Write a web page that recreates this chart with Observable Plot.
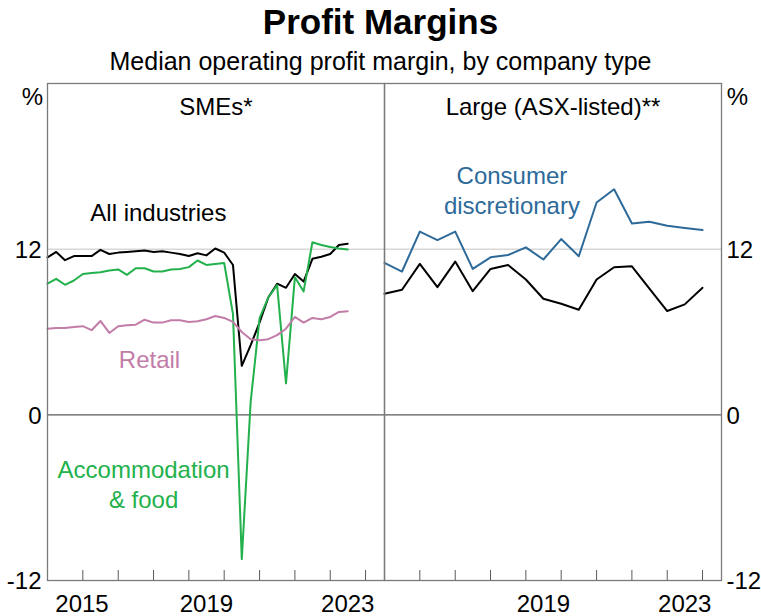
<!DOCTYPE html>
<html><head><meta charset="utf-8">
<script src="https://cdn.jsdelivr.net/npm/d3@7"></script>
<script src="https://cdn.jsdelivr.net/npm/@observablehq/plot@0.6"></script>
<style>
body{margin:0;background:#fff;font-family:"Liberation Sans",Arial,sans-serif;color:#000}
#wrap{width:761px}
.title{font-weight:bold;font-size:35px;line-height:40px;text-align:center;padding-top:2px;height:39px}
.subtitle{font-size:25px;line-height:41px;text-align:center;height:41px}
</style></head><body>
<div id="wrap">
<div class="title">Profit Margins</div>
<div class="subtitle">Median operating profit margin, by company type</div>
<div id="chart"></div>
</div>
<script>
// ---- data ----
const panels = ["SMEs*", "Large (ASX-listed)**"];
const seriesNames = ["All industries", "Accommodation & food", "Retail", "Consumer discretionary"];
const seriesColors = ["#000000", "#22b14c", "#c27ca8", "#2d6a9a"];

// SMEs: quarterly, 2015 Q1 to 2023 Q3
const smeDates = d3.utcMonth.every(3).range(new Date(Date.UTC(2015, 0, 1)), new Date(Date.UTC(2023, 9, 1)));
const smeAllIndustries = [11.4, 11.8, 11.2, 11.5, 11.5, 11.5, 11.95, 11.65, 11.75, 11.8, 11.85, 11.9, 11.8, 11.85, 11.75, 11.65, 11.5, 11.7, 11.55, 12.05, 11.75, 10.85, 3.55, 5.05, 6.7, 8.5, 9.5, 9.2, 10.2, 9.65, 11.3, 11.45, 11.65, 12.3, 12.4];
const smeAccommodation = [9.5, 9.85, 9.42, 9.73, 10.2, 10.28, 10.33, 10.45, 10.53, 10.14, 10.62, 10.62, 10.38, 10.38, 10.53, 10.57, 10.7, 11.18, 10.86, 10.93, 11.0, 7.3, -10.45, 0.96, 7.0, 8.5, 9.4, 2.28, 9.97, 8.94, 12.5, 12.3, 12.15, 12.05, 11.97];
const smeRetail = [6.24, 6.29, 6.29, 6.37, 6.42, 6.13, 6.8, 5.93, 6.42, 6.49, 6.53, 6.89, 6.68, 6.68, 6.85, 6.85, 6.73, 6.78, 6.92, 7.16, 7.02, 6.73, 6.0, 5.48, 5.41, 5.48, 5.77, 6.24, 7.09, 6.68, 7.02, 6.92, 7.09, 7.45, 7.5];

// Large (ASX-listed): half-yearly, 2015 H1 to 2024 H1
const largeDates = d3.utcMonth.every(6).range(new Date(Date.UTC(2015, 0, 1)), new Date(Date.UTC(2024, 6, 1)));
const largeAllIndustries = [8.77, 9.06, 10.93, 9.25, 11.1, 8.96, 10.57, 10.86, 9.8, 8.41, 8.05, 7.61, 9.8, 10.69, 10.76, 9.14, 7.52, 8.0, 9.2];
const largeConsumerDisc = [11.0, 10.38, 13.27, 12.66, 13.27, 10.57, 11.41, 11.58, 12.13, 11.25, 12.73, 11.49, 15.38, 16.34, 13.86, 13.99, 13.7, 13.54, 13.38];

const yTicks = [-12, 0, 12];
const xTickYears = [2016, 2017, 2018, 2019, 2020, 2021, 2022, 2023, 2024];
const xLabelsSME = [2015, 2019, 2023];
const xLabelsLarge = [2019, 2023];

// series label anchors (panel, series, date, value)
const labelPanels = ["SMEs*", "SMEs*", "SMEs*", "Large (ASX-listed)**"];
const labelSeries = ["All industries", "Retail", "Accommodation & food", "Consumer discretionary"];
const labelTexts = ["All industries", "Retail", "Accommodation\n& food", "Consumer\ndiscretionary"];
const labelDates = ["2018-02-20", "2017-11-20", "2017-09-20", "2018-08-10"];
const labelValues = [14.75, 4.08, -5.0, 16.3];

// ---- build tables ----
const rows = [];
function add(panel, series, dates, values) {
  values.forEach((v, i) => rows.push({panel, series, date: dates[i], value: v}));
}
add(panels[0], "All industries", smeDates, smeAllIndustries);
add(panels[0], "Accommodation & food", smeDates, smeAccommodation);
add(panels[0], "Retail", smeDates, smeRetail);
add(panels[1], "All industries", largeDates, largeAllIndustries);
add(panels[1], "Consumer discretionary", largeDates, largeConsumerDisc);

const labels = labelTexts.map((t, i) => ({panel: labelPanels[i], series: labelSeries[i], text: t, date: new Date(labelDates[i]), value: labelValues[i]}));
const xLabels = [
  ...xLabelsSME.map(y => ({panel: panels[0], year: y})),
  ...xLabelsLarge.map(y => ({panel: panels[1], year: y}))
];
const midYear = d => new Date(Date.UTC(d.year, 6, 1));
const yearTicks = xTickYears.map(y => new Date(Date.UTC(y, 0, 1)));

const FONT = 24;
const chart = Plot.plot({
  width: 761,
  height: 534,
  marginTop: 1,
  marginBottom: 36,
  marginLeft: 46,
  marginRight: 40,
  style: {fontFamily: '"Liberation Sans", Arial, sans-serif', color: "#000", background: "#fff"},
  fx: {domain: panels, padding: 0, axis: null},
  x: {type: "utc", domain: [new Date(Date.UTC(2015, 0, 1)), new Date(Date.UTC(2024, 6, 15))]},
  y: {domain: [-12, 24]},
  color: {domain: seriesNames, range: seriesColors},
  marks: [
    Plot.ruleY([12], {stroke: "#c4c4c4", strokeWidth: 1}),
    Plot.ruleY([0], {stroke: "#5a5a5a", strokeWidth: 1.3}),
    Plot.line(rows, {fx: "panel", x: "date", y: "value", z: "series", stroke: "series", strokeWidth: 2}),
    Plot.frame({stroke: "#7a7a7a", strokeWidth: 1.3}),
    Plot.axisX(yearTicks, {anchor: "bottom", tickSize: -10, tickFormat: () => "", stroke: "#5a5a5a", label: null}),
    Plot.axisY(yTicks, {anchor: "left", tickSize: 0, tickPadding: 6, dy: 1, fontSize: FONT, tickFormat: d => String(d), label: null}),
    Plot.axisY(yTicks, {anchor: "right", tickSize: 0, tickPadding: 5, dy: 1, fontSize: FONT, tickFormat: d => String(d), label: null}),
    Plot.text(xLabels.filter(d => d.year !== 2015), {fx: "panel", x: midYear, text: d => String(d.year), frameAnchor: "bottom", lineAnchor: "middle", dy: 24, fontSize: FONT}),
    Plot.text(xLabels.filter(d => d.year === 2015), {fx: "panel", x: midYear, text: d => String(d.year), frameAnchor: "bottom", lineAnchor: "middle", dy: 24, dx: 17, fontSize: FONT}),
    Plot.text(panels, {fx: d => d, text: d => d, frameAnchor: "top", lineAnchor: "middle", dy: 24, fontSize: FONT}),
    Plot.text(["%"], {fx: [panels[0]], frameAnchor: "top-left", textAnchor: "middle", lineAnchor: "middle", dx: -15, dy: 14, fontSize: FONT}),
    Plot.text(["%"], {fx: [panels[1]], frameAnchor: "top-right", textAnchor: "middle", lineAnchor: "middle", dx: 16, dy: 14, fontSize: FONT}),
    Plot.text(labels, {fx: "panel", x: "date", y: "value", text: "text", fill: "series", fontSize: FONT, lineHeight: 1.25})
  ]
});
document.getElementById("chart").appendChild(chart);
</script></body></html>
